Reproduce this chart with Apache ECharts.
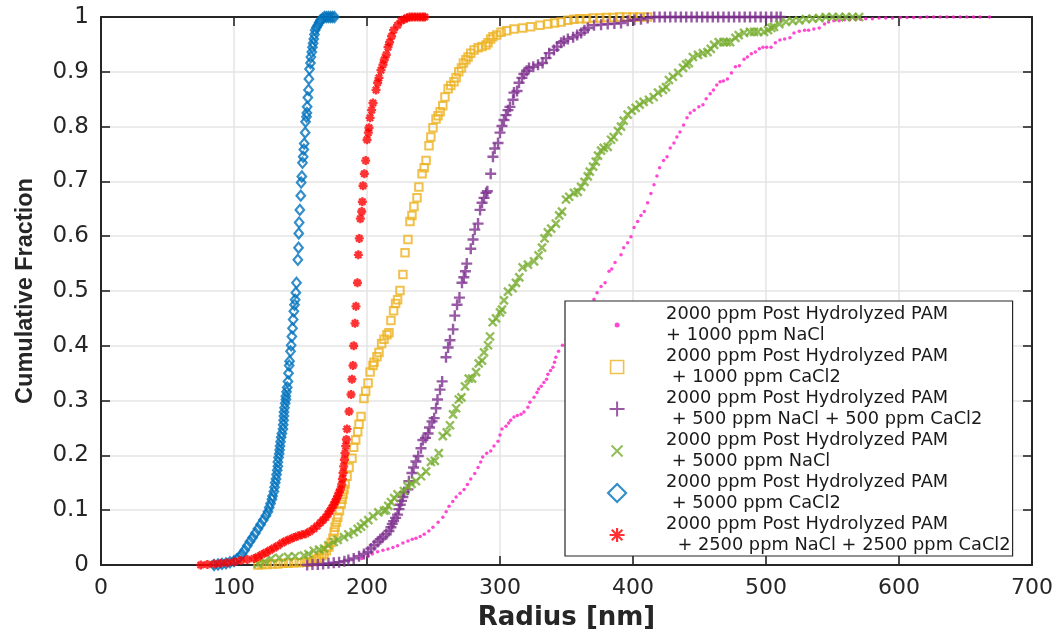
<!DOCTYPE html>
<html>
<head>
<meta charset="utf-8">
<script src="https://cdn.jsdelivr.net/npm/echarts@6/dist/echarts.min.js"></script>
<style>
  html, body { margin: 0; padding: 0; background: #fff; }
  #chart { width: 1058px; height: 636px; }
</style>
</head>
<body>
<div id="chart"></div>
<script>
// Cumulative size distributions of hydrolyzed PAM in different brines: [radius nm, cumulative fraction]
const seriesNames = [
  '2000 ppm Post Hydrolyzed PAM\n+ 1000 ppm NaCl',
  '2000 ppm Post Hydrolyzed PAM\n + 1000 ppm CaCl2',
  '2000 ppm Post Hydrolyzed PAM\n + 500 ppm NaCl + 500 ppm CaCl2',
  '2000 ppm Post Hydrolyzed PAM\n + 5000 ppm NaCl',
  '2000 ppm Post Hydrolyzed PAM\n + 5000 ppm CaCl2',
  '2000 ppm Post Hydrolyzed PAM\n  + 2500 ppm NaCl + 2500 ppm CaCl2'
];

const nacl1000 = [[196,0.012],[200.8,0.016],[204,0.02],[208,0.024],[212,0.027],[215.8,0.029],[219.5,0.032],[223,0.035],[227,0.04],[230.8,0.044],[234,0.047],[236.8,0.049],[240,0.052],[243,0.056],[246.5,0.062],[249.6,0.069],[253.5,0.078],[257,0.087],[259.5,0.097],[261.7,0.107],[264.5,0.116],[267,0.124],[270,0.131],[273,0.138],[275.5,0.147],[278,0.157],[281,0.167],[283.5,0.178],[285.5,0.188],[287,0.197],[290,0.204],[293,0.208],[295.5,0.217],[298.5,0.226],[300,0.237],[301.5,0.248],[304.5,0.253],[306.5,0.259],[308,0.264],[310.5,0.27],[313,0.273],[315.8,0.275],[318,0.279],[321,0.288],[322.5,0.297],[325.6,0.306],[327.8,0.315],[329,0.321],[331,0.326],[333,0.333],[335,0.339],[336,0.348],[338,0.355],[339.8,0.361],[341,0.37],[342,0.379],[344,0.39],[347,0.401],[350,0.412],[353,0.424],[356,0.437],[359,0.45],[362,0.462],[365,0.472],[368,0.478],[370.7,0.485],[373,0.497],[376,0.508],[379,0.515],[382,0.536],[384,0.54],[386.5,0.552],[391,0.566],[393,0.579],[396,0.588],[398.5,0.599],[400.8,0.616],[403.5,0.627],[406,0.638],[408.5,0.645],[411,0.661],[413.5,0.678],[415.8,0.694],[418,0.71],[420,0.725],[423,0.738],[425.6,0.745],[428,0.761],[430.8,0.77],[433,0.781],[435.3,0.79],[438,0.803],[440.6,0.816],[443,0.825],[446,0.83],[449.5,0.836],[452.6,0.84],[455,0.851],[458,0.86],[460.5,0.867],[463,0.876],[465.5,0.882],[468,0.883],[471,0.887],[474,0.898],[477,0.909],[480,0.911],[483.5,0.923],[486,0.927],[489,0.933],[492,0.936],[495,0.942],[497.7,0.945],[500.5,0.945],[503.8,0.945],[507,0.953],[510.5,0.958],[514,0.96],[518,0.962],[521,0.971],[525,0.974],[529,0.976],[532,0.976],[536,0.978],[540,0.98],[544,0.987],[547,0.991],[551,0.993],[555,0.993],[559,0.995],[563,0.995],[567,0.996],[571,0.996],[575,0.997],[580,0.997],[585,0.998],[590,0.998],[595,0.998],[601,0.999],[606,0.999],[611,0.999],[616,0.999],[621,1],[626,1],[631,1],[636,1],[641,1],[646,1],[651,1],[656,1],[661,1],[668,1]];

const cacl1000 = [[118,0],[121,0.001],[125,0.001],[129,0.002],[133,0.002],[137,0.003],[141,0.003],[145,0.004],[149,0.004],[153,0.005],[156,0.005],[158,0.006],[160,0.008],[162,0.011],[164,0.013],[166,0.017],[167.7,0.02],[169.5,0.026],[171.4,0.033],[173,0.041],[174.4,0.049],[175.3,0.06],[176,0.069],[177,0.078],[178,0.087],[179.3,0.099],[180.5,0.111],[181.3,0.12],[182,0.129],[182.7,0.138],[183.5,0.148],[185,0.162],[186.5,0.178],[188.7,0.195],[190,0.215],[191.5,0.228],[193,0.243],[194,0.257],[195.5,0.271],[197.7,0.304],[199,0.317],[200.8,0.332],[202.3,0.352],[204.5,0.364],[205.3,0.37],[207.5,0.38],[209,0.388],[211,0.404],[212.8,0.412],[215,0.42],[216.5,0.424],[218,0.446],[220,0.464],[221.5,0.477],[223,0.484],[224.8,0.501],[227,0.53],[228.6,0.57],[230.8,0.594],[232.3,0.627],[233.8,0.638],[235.3,0.654],[237.6,0.67],[239,0.69],[241.4,0.714],[243,0.725],[244.4,0.738],[246.6,0.765],[248,0.781],[249.6,0.798],[251.9,0.814],[253.4,0.82],[255,0.827],[257,0.838],[258.6,0.854],[261,0.869],[263,0.875],[265.4,0.882],[267,0.889],[269,0.9],[271,0.907],[272.5,0.916],[274.4,0.922],[276,0.927],[278,0.934],[280.5,0.94],[283.5,0.944],[286.5,0.946],[289.5,0.949],[291,0.953],[293,0.96],[294.7,0.964],[297.5,0.967],[300.8,0.972],[305,0.975],[310.5,0.978],[317,0.98],[323,0.982],[330,0.985],[336,0.987],[341,0.989],[346,0.991],[351,0.994],[355.6,0.996],[360,0.997],[365,0.997],[370,0.998],[375,0.998],[380,0.999],[385,0.999],[390,1],[395,1],[400,1],[405,1],[411,1]];

const mixed500 = [[155,0],[159,0.001],[163,0.001],[167,0.002],[171,0.003],[175,0.004],[179,0.005],[183,0.007],[186,0.009],[190,0.012],[194,0.016],[197.7,0.02],[200.8,0.024],[203,0.03],[205.5,0.036],[208,0.042],[210,0.047],[212,0.051],[214.5,0.056],[216.5,0.062],[218,0.069],[219,0.075],[220,0.08],[221.5,0.086],[223,0.092],[224,0.102],[225,0.11],[226,0.117],[227,0.124],[228,0.133],[230.8,0.138],[231.5,0.153],[233.8,0.168],[235,0.178],[236.8,0.189],[238.5,0.199],[240.6,0.213],[242,0.228],[244,0.232],[245.9,0.24],[247,0.251],[248.9,0.262],[250.5,0.268],[251.9,0.286],[253,0.302],[254.9,0.32],[256.5,0.335],[259.4,0.379],[261,0.397],[262.4,0.41],[264.7,0.43],[266,0.455],[267.7,0.475],[269.5,0.488],[271.4,0.515],[272.8,0.525],[274,0.536],[275,0.55],[278,0.577],[279.7,0.594],[281,0.612],[283.5,0.623],[285,0.648],[286.5,0.661],[288,0.67],[289.5,0.679],[290.5,0.682],[293,0.714],[294.7,0.745],[296,0.76],[298.5,0.77],[300,0.789],[301.5,0.801],[303,0.812],[304.5,0.821],[306,0.83],[307.5,0.836],[309.8,0.849],[310.5,0.862],[312.8,0.865],[314.3,0.88],[316.5,0.889],[318,0.896],[320,0.902],[321.8,0.907],[325,0.909],[328.6,0.913],[332,0.916],[334.6,0.925],[337,0.934],[340.6,0.94],[343,0.946],[345.9,0.953],[348,0.956],[351,0.96],[355,0.963],[358,0.967],[361,0.971],[363.5,0.976],[366,0.98],[370.7,0.985],[376,0.986],[381,0.987],[386,0.988],[391,0.989],[396,0.993],[401,0.995],[406,0.996],[411,0.998],[416,1],[420,1],[424,1],[428,1],[432,1],[436,1],[440,1],[444,1],[448,1],[452,1],[456,1],[460,1],[464,1],[468,1],[472,1],[476,1],[480,1],[484,1],[488,1],[492,1],[496,1],[500,1],[504,1],[508,1],[511,1]];

const nacl5000 = [[118,0.002],[123,0.006],[127.8,0.011],[134,0.013],[140.6,0.015],[146,0.016],[152.6,0.017],[156,0.02],[160,0.026],[164,0.028],[167.7,0.03],[171,0.036],[175,0.042],[178,0.046],[182.7,0.051],[186,0.056],[190,0.06],[193,0.066],[195.5,0.07],[197.7,0.076],[201,0.082],[204.5,0.089],[208.5,0.096],[212.8,0.099],[214.3,0.1],[216,0.108],[218,0.115],[220.5,0.122],[223,0.129],[227.8,0.135],[230.5,0.144],[233.5,0.148],[236.8,0.153],[240.6,0.162],[244.4,0.171],[248,0.188],[251,0.19],[254,0.204],[257,0.235],[260,0.242],[262.4,0.255],[264.7,0.275],[267,0.286],[269,0.302],[271,0.306],[273.7,0.326],[276.5,0.34],[279,0.34],[282,0.352],[284,0.368],[286.5,0.373],[288,0.388],[291,0.401],[292.5,0.417],[294.5,0.443],[297,0.45],[300,0.461],[301.5,0.466],[303,0.483],[306,0.499],[309.5,0.505],[312,0.515],[314.5,0.525],[317,0.543],[321,0.548],[325.6,0.554],[329,0.565],[331.6,0.579],[333.5,0.596],[336,0.607],[338.5,0.614],[342,0.623],[344.5,0.638],[346.6,0.645],[349.6,0.667],[352,0.672],[355.6,0.679],[358.5,0.681],[361,0.69],[363.5,0.699],[366,0.709],[367.5,0.718],[370,0.727],[372,0.736],[373.7,0.747],[376,0.756],[378,0.761],[381,0.763],[383.5,0.776],[385.5,0.781],[388.7,0.792],[391,0.8],[393,0.811],[396,0.822],[399,0.829],[402,0.834],[405,0.84],[408,0.845],[412,0.849],[415.5,0.854],[418.8,0.862],[422.5,0.867],[424.8,0.872],[427,0.885],[430,0.891],[434,0.898],[437.6,0.907],[440,0.913],[442,0.916],[445,0.927],[448.9,0.931],[452.5,0.934],[456,0.936],[458.5,0.942],[461,0.949],[464.5,0.954],[468,0.954],[470.5,0.954],[473,0.954],[477,0.962],[479.5,0.967],[483.5,0.971],[488,0.973],[491,0.973],[494,0.973],[498.5,0.973],[501.5,0.976],[504,0.98],[506,0.982],[510,0.987],[515,0.991],[520,0.993],[525,0.994],[530,0.996],[535,0.997],[540,0.998],[545,1],[550,1],[555,1],[560,1],[565,1],[570,1]];

const cacl5000 = [[85,0],[88,0.001],[91,0.002],[94,0.003],[97,0.005],[100,0.007],[102,0.01],[104,0.014],[106,0.02],[108,0.027],[110,0.035],[112,0.043],[114,0.05],[116,0.058],[118,0.066],[120,0.074],[122,0.082],[124,0.09],[125.5,0.097],[126.5,0.105],[127.5,0.112],[128.5,0.12],[129,0.126],[130,0.134],[130.5,0.142],[131,0.15],[131.6,0.157],[132,0.165],[132.5,0.173],[133,0.18],[133,0.188],[133.5,0.196],[134,0.203],[134.3,0.21],[134.6,0.217],[135,0.225],[135.5,0.233],[136,0.24],[136.8,0.248],[137,0.256],[137.3,0.264],[137.5,0.272],[137.6,0.279],[138,0.287],[138.5,0.295],[139,0.302],[139,0.308],[139.5,0.316],[140,0.324],[140.6,0.335],[141,0.35],[141.5,0.364],[141.8,0.372],[142.5,0.39],[143,0.401],[143.5,0.417],[144,0.432],[144.5,0.448],[145,0.463],[145.5,0.475],[146,0.484],[146.5,0.497],[147,0.515],[148,0.557],[148.5,0.579],[148.7,0.605],[149,0.625],[149.5,0.648],[150.2,0.674],[150.5,0.698],[151,0.709],[151.5,0.734],[152,0.745],[152.5,0.758],[152.8,0.769],[153.5,0.789],[153.8,0.809],[154.5,0.818],[154.8,0.825],[155,0.836],[155.5,0.853],[156,0.867],[156.3,0.887],[156.8,0.905],[157.5,0.916],[157.8,0.927],[158.5,0.936],[159,0.945],[159.5,0.952],[160,0.96],[160.5,0.968],[161,0.976],[162,0.981],[163,0.985],[164,0.99],[165,0.994],[166.5,0.997],[168,1],[169.5,1],[171,1],[172.5,1],[174,1],[175.5,1]];

const mixed2500 = [[75,0],[80,0.001],[85,0.002],[90,0.003],[95,0.004],[100,0.006],[105,0.008],[110,0.01],[115,0.012],[118,0.015],[121,0.019],[124,0.023],[127,0.027],[130,0.031],[133,0.035],[136,0.04],[139,0.044],[142,0.047],[145,0.05],[148,0.053],[151,0.055],[154,0.057],[157,0.061],[160,0.066],[162.5,0.071],[165,0.077],[167,0.082],[169,0.087],[170.7,0.093],[172,0.098],[173.5,0.104],[175,0.11],[176,0.115],[177,0.12],[178,0.126],[179,0.132],[180,0.138],[181,0.147],[181.5,0.157],[182,0.168],[182.5,0.18],[183,0.192],[183.5,0.204],[184,0.217],[184.5,0.229],[185,0.248],[186.5,0.28],[188,0.311],[188.7,0.339],[189.5,0.364],[190,0.4],[191,0.441],[191.7,0.472],[192.8,0.515],[193.5,0.566],[194.2,0.596],[195,0.632],[196,0.645],[196.5,0.663],[197,0.692],[198,0.714],[199,0.738],[200,0.776],[201,0.789],[201.5,0.798],[202.3,0.816],[203.5,0.83],[204.5,0.843],[206.8,0.867],[208,0.88],[209,0.889],[210.5,0.903],[212,0.913],[213,0.922],[214.5,0.931],[215.8,0.945],[217,0.954],[218.5,0.965],[220,0.976],[223,0.985],[225.6,0.993],[228,0.996],[230,0.998],[232,1],[234,1],[236,1],[238,1],[240,1],[242,1],[243.5,1]];

const xTicks = { min: 0, max: 700, step: 100 };
const yTicks = { min: 0, max: 1, step: 0.1 };

// marker styles
const INK = '#262626';
const colors = ['#FF1AC6', '#EDB120', '#7E2F8E', '#77AC30', '#0072BD', '#FF0000'];
const plusPath = 'path://M5,0V10M0,5H10';
const crossPath = 'path://M0,0L8,8M8,0L0,8';
const starPath = 'path://M5,0V10M0,5H10M1.5,1.5L8.5,8.5M8.5,1.5L1.5,8.5';

// legend icons live in a 20x20 box so their drawn size can differ per entry
const legendIcons = [
  'path://M0,0M20,20M7.5,10a2.5,2.5 0 1,0 5,0a2.5,2.5 0 1,0 -5,0z',
  'path://M0,0M20,20M3.5,3.5H16.5V16.5H3.5Z',
  'path://M0,0M20,20M10,2.5V17.5M2.5,10H17.5',
  'path://M0,0M20,20M4.5,4.5L15.5,15.5M15.5,4.5L4.5,15.5',
  'path://M0,0M20,20M10,1L19,10L10,19L1,10Z',
  'path://M0,0M20,20M10,3V17M2.5,10H17.5M4.7,4.7L15.3,15.3M15.3,4.7L4.7,15.3'
];

const seriesData = [nacl1000, cacl1000, mixed500, nacl5000, cacl5000, mixed2500];
const symbols = ['circle', 'rect', plusPath, crossPath, 'diamond', starPath];
const symbolSizes = [3.5, 7.5, 11, 8, [8.5, 10], 9];
const itemStyles = [
  { color: colors[0], borderWidth: 0 },
  { color: 'transparent', borderColor: colors[1], borderWidth: 2 },
  { color: 'transparent', borderColor: colors[2], borderWidth: 2.4 },
  { color: 'transparent', borderColor: colors[3], borderWidth: 2.4 },
  { color: 'transparent', borderColor: colors[4], borderWidth: 2.2 },
  { color: 'transparent', borderColor: colors[5], borderWidth: 2.4 }
];
const legendStyles = [
  { color: colors[0], borderWidth: 0 },
  { color: 'transparent', borderColor: colors[1], borderWidth: 1.6 },
  { color: 'transparent', borderColor: colors[2], borderWidth: 2 },
  { color: 'transparent', borderColor: colors[3], borderWidth: 2 },
  { color: 'transparent', borderColor: colors[4], borderWidth: 2.2 },
  { color: 'transparent', borderColor: colors[5], borderWidth: 2.2 }
];

const FONT = 'DejaVu Sans';

function frameAxis(extra) {
  return Object.assign({
    type: 'value',
    axisLine: { show: true, onZero: false, lineStyle: { color: INK, width: 2 } },
    axisTick: { show: true, inside: true, length: 9, lineStyle: { color: INK, width: 1.6 } },
    axisLabel: { show: false },
    splitLine: { show: false }
  }, extra);
}

const chart = echarts.init(document.getElementById('chart'), null, { renderer: 'canvas' });

chart.setOption({
  animation: false,
  backgroundColor: '#ffffff',
  grid: { left: 101, right: 26, top: 17, bottom: 69, containLabel: false },
  xAxis: [
    frameAxis({
      position: 'bottom',
      min: xTicks.min, max: xTicks.max, interval: xTicks.step,
      axisLabel: { show: true, color: INK, fontFamily: FONT, fontSize: 22, margin: 12 },
      splitLine: { show: true, lineStyle: { color: '#e4e4e4', width: 1.5 } },
      name: 'Radius [nm]',
      nameLocation: 'middle',
      nameGap: 40,
      nameTextStyle: { color: INK, fontFamily: FONT, fontWeight: 'bold', fontSize: 26 }
    }),
    frameAxis({ position: 'top', min: xTicks.min, max: xTicks.max, interval: xTicks.step })
  ],
  yAxis: [
    frameAxis({
      position: 'left',
      min: yTicks.min, max: yTicks.max, interval: yTicks.step,
      axisLabel: { show: true, color: INK, fontFamily: FONT, fontSize: 23, margin: 12 },
      splitLine: { show: true, lineStyle: { color: '#e4e4e4', width: 1.5 } },
      name: 'Cumulative Fraction',
      nameLocation: 'middle',
      nameGap: 63,
      nameTextStyle: { color: INK, fontFamily: 'Liberation Sans', fontWeight: 'bold', fontSize: 23.5 }
    }),
    frameAxis({ position: 'right', min: yTicks.min, max: yTicks.max, interval: yTicks.step })
  ],
  legend: {
    orient: 'vertical',
    left: 565,
    top: 301,
    padding: [3, 2, 0, 41],
    itemGap: 0,
    itemWidth: 88,
    itemHeight: 20,
    symbolKeepAspect: true,
    selectedMode: false,
    backgroundColor: '#ffffff',
    borderColor: INK,
    borderWidth: 1.2,
    textStyle: { color: '#1a1a1a', fontFamily: FONT, fontSize: 17.8, lineHeight: 21 },
    data: seriesNames.map((name, i) => ({ name, icon: legendIcons[i], itemStyle: legendStyles[i] }))
  },
  series: seriesNames.map((name, i) => ({
    name,
    type: 'scatter',
    xAxisIndex: 0,
    yAxisIndex: 0,
    data: seriesData[i],
    symbol: symbols[i],
    symbolSize: symbolSizes[i],
    itemStyle: itemStyles[i],
    silent: true,
    clip: false,
    emphasis: { disabled: true },
    z: 2 + i * 0.01
  }))
});
</script>
</body>
</html>
